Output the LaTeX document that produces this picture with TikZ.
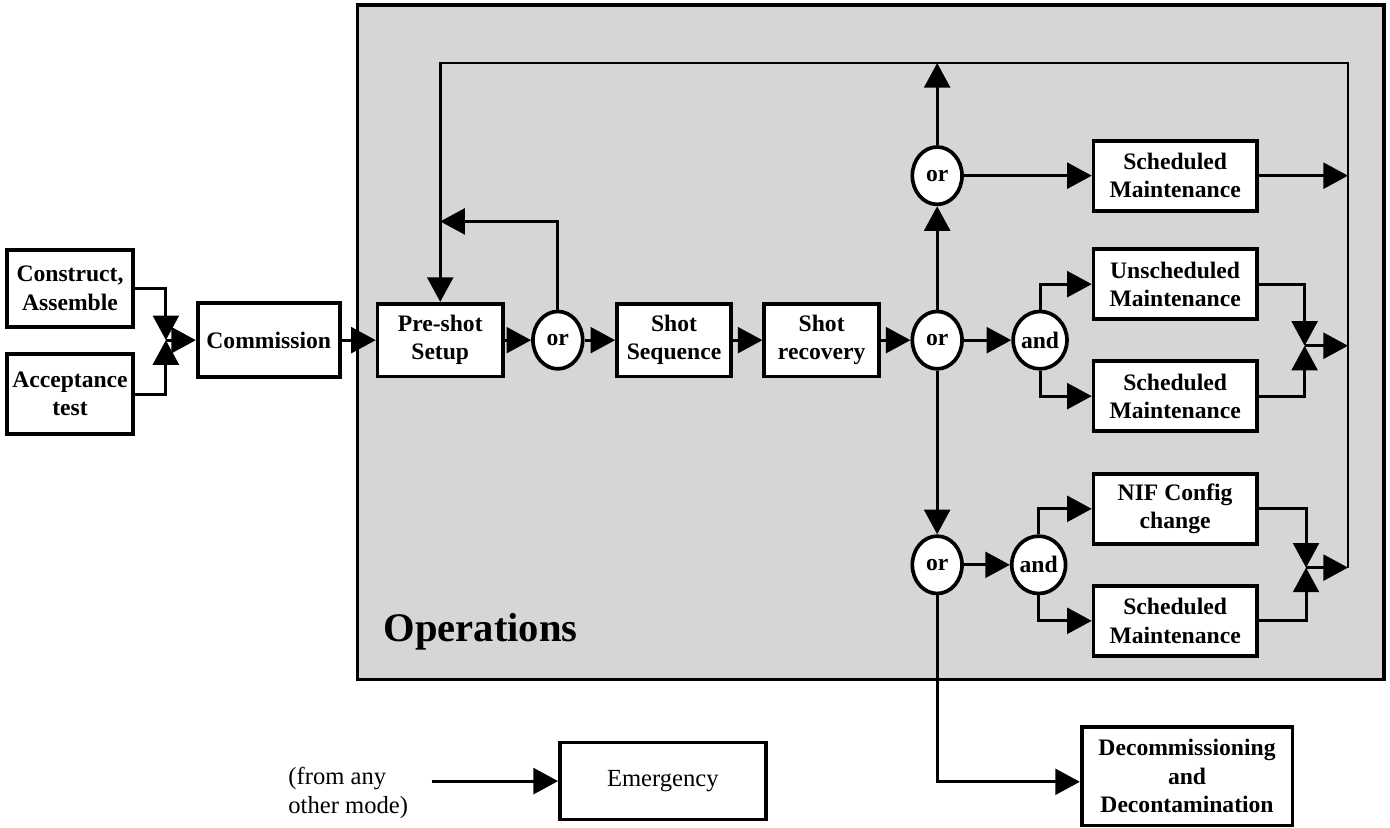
\documentclass[tikz,border=0pt]{standalone}
\usepackage{fontspec}
\setmainfont{Liberation Serif}
\usetikzlibrary{arrows.meta,shapes.geometric}
\definecolor{opsfill}{gray}{0.84}

\begin{document}
\begin{tikzpicture}[line width=1.2pt,
  block/.style={draw, fill=white, line width=1.5pt, minimum width=2.33cm, minimum height=1.0cm,
    align=center, inner sep=1pt, font=\fontsize{9.6}{11.5}\selectfont\bfseries},
  gate/.style={ellipse, draw, fill=white, line width=1.5pt, minimum width=0.71cm, minimum height=0.82cm,
    inner sep=0pt, font=\fontsize{9.6}{11.5}\selectfont\bfseries},
  flow/.style={-{Triangle[length=10pt,width=10.5pt]}}]
  \useasboundingbox (0,0) rectangle (19.86,-11.83);

  % operations mode
  \draw[fill=opsfill, line width=1.5pt] (5.11,-0.07) rectangle (19.77,-9.71);
  \node[anchor=base west, inner sep=0pt, font=\fontsize{16.5}{19}\selectfont\bfseries]
    (opslabel) at (5.46,-9.17) {Operations};

  \node[block, minimum width=1.80cm, minimum height=1.10cm] (construct) at (1.00,-4.12)
    {Construct,\\Assemble};
  \node[block, minimum width=1.80cm, minimum height=1.15cm] (accept) at (1.00,-5.63)
    {Acceptance\\test};
  \node[block, minimum width=2.03cm, minimum height=1.06cm] (commission) at (3.84,-4.86)
    {Commission};
  \node[block, minimum width=1.79cm, minimum height=1.04cm] (preshot) at (6.29,-4.86)
    {Pre-shot\\Setup};
  \node[gate] (or1) at (7.97,-4.86) {or};
  \node[block, minimum width=1.63cm, minimum height=1.04cm] (sequence) at (9.63,-4.86)
    {Shot\\Sequence};
  \node[block, minimum width=1.64cm, minimum height=1.04cm] (recovery) at (11.74,-4.86)
    {Shot\\recovery};
  \node[gate] (or2) at (13.39,-4.86) {or};
  \node[gate] (ortop) at (13.39,-2.51) {or};
  \node[gate] (or3) at (13.39,-8.07) {or};
  \node[gate] (and1) at (14.86,-4.86) {and};
  \node[gate] (and2) at (14.84,-8.07) {and};

  \node[block] (schedtop) at (16.79,-2.51) {Scheduled\\Maintenance};
  \node[block] (unsched) at (16.79,-4.06) {Unscheduled\\Maintenance};
  \node[block] (schedmid) at (16.79,-5.66) {Scheduled\\Maintenance};
  \node[block] (config) at (16.79,-7.27) {NIF Config\\change};
  \node[block] (schedlow) at (16.79,-8.87) {Scheduled\\Maintenance};

  \node[block, minimum width=3.01cm, minimum height=1.41cm] (decom) at (16.96,-11.09)
    {Decommissioning\\and\\Decontamination};
  \node[block, minimum width=2.94cm, minimum height=1.10cm,
    font=\fontsize{10}{12}\selectfont] (emergency) at (9.47,-11.16) {Emergency};
  \node[anchor=west, align=left, inner sep=0pt, font=\fontsize{10}{11.5}\selectfont]
    (anymode) at (4.10,-11.33) {(from any\\other mode)};

  % junctions and the return bus
  \coordinate (merge) at (2.37,-4.86);
  \coordinate (joinmid) at (18.64,-4.94);
  \coordinate (joinlow) at (18.66,-8.11);
  \coordinate (bustop) at (19.26,-0.90);
  \coordinate (busend) at (19.26,-8.11);
  \coordinate (decbend) at (13.39,-11.17);
  \coordinate (anyfrom) at (6.17,-11.16);

  \draw[flow] (construct.east) -| (merge);
  \draw[flow] (accept.east) -| (merge);
  \draw[flow] (merge) -- (merge -| commission.west);
  \draw[flow] (commission) -- (preshot);
  \draw[flow] (preshot) -- (or1);
  \draw[flow] (or1) -- (sequence);
  \draw[flow] (sequence) -- (recovery);
  \draw[flow] (recovery) -- (or2);
  \draw[flow] (or1.north) |- ([yshift=1.15cm]preshot.north);
  \draw[flow] (busend) -- (bustop) -| (preshot.north);

  \draw[flow] (or2) -- (ortop);
  \draw[flow] (ortop) -- (ortop |- bustop);
  \draw[flow] (ortop) -- (schedtop);
  \draw[flow] (schedtop.east) -- (schedtop.east -| bustop);

  \draw[flow] (or2) -- (and1);
  \draw[flow] (and1.north) |- (unsched.west);
  \draw[flow] (and1.south) |- (schedmid.west);
  \draw[flow] (unsched.east) -| (joinmid);
  \draw[flow] (schedmid.east) -| (joinmid);
  \draw[flow] (joinmid) -- (joinmid -| bustop);

  \draw[flow] (or2) -- (or3);
  \draw[flow] (or3) -- (and2);
  \draw[flow] (and2.north) |- (config.west);
  \draw[flow] (and2.south) |- (schedlow.west);
  \draw[flow] (config.east) -| (joinlow);
  \draw[flow] (schedlow.east) -| (joinlow);
  \draw[flow] (joinlow) -- (joinlow -| bustop);

  \draw[flow] (or3) -- (decbend) -- (decbend -| decom.west);
  \draw[flow] (anyfrom) -- (emergency);
\end{tikzpicture}
\end{document}
